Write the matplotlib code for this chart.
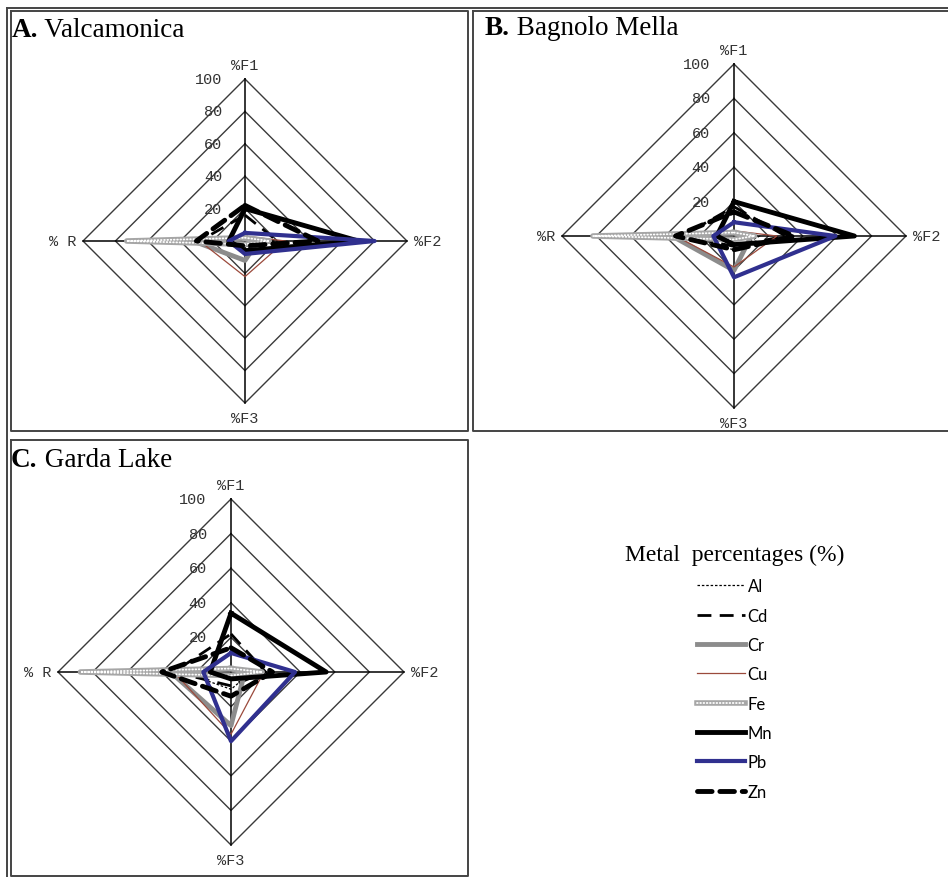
import matplotlib
matplotlib.use("Agg")
import matplotlib.pyplot as plt
import numpy as np

# radar axes, clockwise from top
axis_names = ["%F1", "%F2", "%F3", "%R"]
metals = ["Al", "Cd", "Cr", "Cu", "Fe", "Mn", "Pb", "Zn"]
ticks = [0, 20, 40, 60, 80, 100]

# values per metal: F1, F2, F3, R
valcamonica = {
    "Al": [3, 12, 5, 22],
    "Cd": [16, 20, 3, 28],
    "Cr": [2, 8, 12, 32],
    "Cu": [3, 25, 22, 28],
    "Fe": [2, 15, 2, 73],
    "Mn": [20, 70, 6, 10],
    "Pb": [5, 80, 8, 10],
    "Zn": [22, 45, 3, 30],
}
bagnolo = {
    "Al": [3, 15, 8, 33],
    "Cd": [17, 30, 6, 30],
    "Cr": [2, 10, 20, 36],
    "Cu": [3, 25, 18, 34],
    "Fe": [2, 12, 2, 82],
    "Mn": [20, 70, 5, 10],
    "Pb": [8, 59, 24, 12],
    "Zn": [14, 35, 8, 34],
}
garda = {
    "Al": [3, 12, 10, 28],
    "Cd": [22, 20, 8, 33],
    "Cr": [2, 8, 31, 35],
    "Cu": [3, 19, 36, 33],
    "Fe": [2, 18, 2, 87],
    "Mn": [34, 55, 4, 12],
    "Pb": [11, 37, 40, 16],
    "Zn": [14, 24, 14, 40],
}

styles = {
    "Al": [dict(color="black", lw=0.9, ls=(0, (2, 1.5)))],
    "Cd": [dict(color="black", lw=2, ls=(0, (5, 3)))],
    "Cr": [dict(color="#8c8c8c", lw=3.5)],
    "Cu": [dict(color="#9b4a3c", lw=0.9)],
    "Fe": [dict(color="#a6a6a6", lw=4),
           dict(color="white", lw=1.3, ls=(0, (0.4, 1.4)), dash_capstyle="round")],
    "Mn": [dict(color="black", lw=3.5)],
    "Pb": [dict(color="#30308f", lw=3)],
    "Zn": [dict(color="black", lw=3.5, ls=(0, (3, 1.6)), dash_capstyle="round")],
}

W, H = 948, 878
fig = plt.figure(figsize=(W / 100, H / 100), dpi=100)

bg = fig.add_axes([0, 0, 1, 1])
bg.set_xlim(0, W)
bg.set_ylim(H, 0)
bg.axis("off")

frame = dict(color="#444444", lw=1.4)
# outer double border
bg.plot([7, 7], [9, 878], **frame)
bg.plot([7, 948], [9, 9], **frame)
# panel frames
for x0, y0, x1, y1 in [(11, 12, 468, 432), (473, 12, 952, 432), (11, 441, 468, 877)]:
    bg.plot([x0, x1, x1, x0, x0], [y0, y0, y1, y1, y0], **frame)

angles = np.deg2rad([90, 0, -90, 180])
lim = 120


def radar(cx, cy, r, data, rlabel):
    size = 2 * lim / 100 * r
    ax = fig.add_axes([(cx - size / 2) / W, 1 - (cy + size / 2) / H, size / W, size / H])
    ax.set_xlim(-lim, lim)
    ax.set_ylim(-lim, lim)
    ax.axis("off")
    ax.patch.set_alpha(0)
    for t in ticks[1:]:
        xs = np.append(t * np.cos(angles), t * np.cos(angles[0]))
        ys = np.append(t * np.sin(angles), t * np.sin(angles[0]))
        ax.plot(xs, ys, color="#3a3a3a", lw=1, zorder=1)
    for a in angles:
        ax.plot([0, 100 * np.cos(a)], [0, 100 * np.sin(a)], color="black", lw=1.1, zorder=1)
    for t in ticks:
        ax.text(-14, t, str(t), ha="right", va="center", fontsize=11,
                family="Liberation Mono", color="#333333")
    names = list(axis_names)
    names[3] = rlabel
    offs = [((0, 14), "center"), ((7, 0), "left"), ((0, -15), "center"), ((-7, 0), "right")]
    for a, name, (off, ha) in zip(angles, names, offs):
        ax.annotate(name, (100 * np.cos(a), 100 * np.sin(a)), xytext=off,
                    textcoords="offset pixels", ha=ha, va="center", fontsize=11,
                    family="Liberation Mono", color="#333333")
    handles = {}
    for i, m in enumerate(metals):
        v = np.array(data[m] + data[m][:1], dtype=float)
        a = np.append(angles, angles[0])
        hs = []
        for st in styles[m]:
            h, = ax.plot(v * np.cos(a), v * np.sin(a), zorder=2 + i, **st)
            hs.append(h)
        handles[m] = tuple(hs) if len(hs) > 1 else hs[0]
    return ax, handles


ax_a, handles = radar(245, 242, 162, valcamonica, "% R")
ax_b, _ = radar(734, 237, 172, bagnolo, "%R")
ax_c, _ = radar(231, 673, 173, garda, "% R")

for (x, y), letter, name in [((12, 37), "A.", "Valcamonica"),
                             ((485, 35), "B.", "Bagnolo Mella"),
                             ((11, 467), "C.", "Garda Lake")]:
    t = bg.text(x, y, letter, fontsize=19.5, family="Liberation Serif",
                fontweight="bold", va="baseline")
    bg.annotate(" " + name, (1, 0), xycoords=t, va="bottom", fontsize=19.5,
                family="Liberation Serif")

leg = fig.legend([handles[m] for m in metals], metals,
                 loc="upper left", bbox_to_anchor=(618 / W, 1 - 538 / H),
                 frameon=False, handlelength=2.9, handletextpad=0.15,
                 labelspacing=0.8, borderaxespad=0,
                 title="Metal  percentages (%)",
                 title_fontproperties={"family": "Liberation Serif", "size": 17},
                 prop={"family": "Lato", "size": 12})
leg._legend_box.align = "center"

fig.savefig("out.png", dpi=100)
